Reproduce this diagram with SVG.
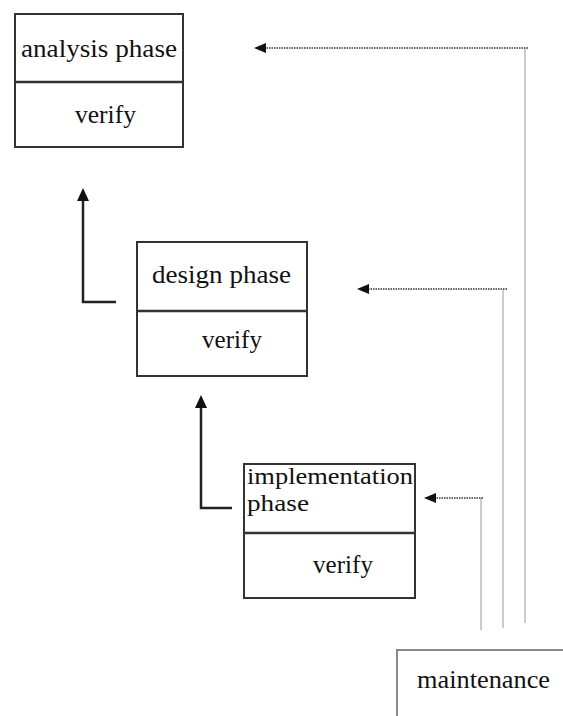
<svg xmlns="http://www.w3.org/2000/svg" width="563" height="716" viewBox="0 0 563 716">
<defs>
<style>
.box{fill:#fff;stroke:#333;stroke-width:2}
.div{stroke:#333;stroke-width:2.5}
.t{font-family:"Liberation Serif","Times New Roman",serif;font-size:26px;fill:#111}
.s{font-size:24px}
.solid{fill:none;stroke:#222;stroke-width:2.5}
.dot{fill:none;stroke:#666;stroke-width:2;stroke-dasharray:1.5 1}
.vline{fill:none;stroke:#bbb;stroke-width:1.5}
.mbox{fill:#fff;stroke:#888;stroke-width:2}
</style>
<marker id="ah" viewBox="0 0 13 12" refX="0" refY="6" markerWidth="13" markerHeight="12" markerUnits="userSpaceOnUse" orient="auto">
<path d="M0,0 L13,6 L0,12 z" fill="#111"/>
</marker>
<marker id="ad" viewBox="0 0 12 10" refX="0" refY="5" markerWidth="12" markerHeight="10" markerUnits="userSpaceOnUse" orient="auto">
<path d="M0,0 L12,5 L0,10 z" fill="#111"/>
</marker>
</defs>
<rect width="563" height="716" fill="#fff"/>
<g id="connectors">
<path class="solid" d="M116 302 H83 V201" marker-end="url(#ah)"/>
<path class="solid" d="M232 508 H201 V408" marker-end="url(#ah)"/>
<path class="vline" d="M525 623 V48"/>
<path class="dot" d="M528 48 H266" marker-end="url(#ad)"/>
<path class="vline" d="M503 628 V289"/>
<path class="dot" d="M507 289 H369" marker-end="url(#ad)"/>
<path class="vline" d="M481 630 V498"/>
<path class="dot" d="M483 498 H436" marker-end="url(#ad)"/>
</g>
<g id="analysis">
<rect class="box" x="15" y="14" width="168" height="133"/>
<line class="div" x1="15" y1="82" x2="183" y2="82"/>
<text class="t" x="21" y="57" textLength="156" lengthAdjust="spacingAndGlyphs">analysis phase</text>
<text class="t" x="75" y="123" textLength="61" lengthAdjust="spacingAndGlyphs">verify</text>
</g>
<g id="design">
<rect class="box" x="137" y="242" width="170" height="134"/>
<line class="div" x1="137" y1="311" x2="307" y2="311"/>
<text class="t" x="152" y="283" textLength="139" lengthAdjust="spacingAndGlyphs">design phase</text>
<text class="t" x="202" y="348" textLength="60" lengthAdjust="spacingAndGlyphs">verify</text>
</g>
<g id="implementation">
<rect class="box" x="244" y="464" width="171" height="134"/>
<line class="div" x1="244" y1="533" x2="415" y2="533"/>
<text class="t s" x="247" y="484" textLength="166" lengthAdjust="spacingAndGlyphs">implementation</text>
<text class="t s" x="247" y="511" textLength="62" lengthAdjust="spacingAndGlyphs">phase</text>
<text class="t" x="313" y="573" textLength="60" lengthAdjust="spacingAndGlyphs">verify</text>
</g>
<g id="maintenance">
<rect class="mbox" x="397" y="650" width="180" height="80"/>
<text class="t" x="417" y="688" textLength="133" lengthAdjust="spacingAndGlyphs">maintenance</text>
</g>
</svg>
